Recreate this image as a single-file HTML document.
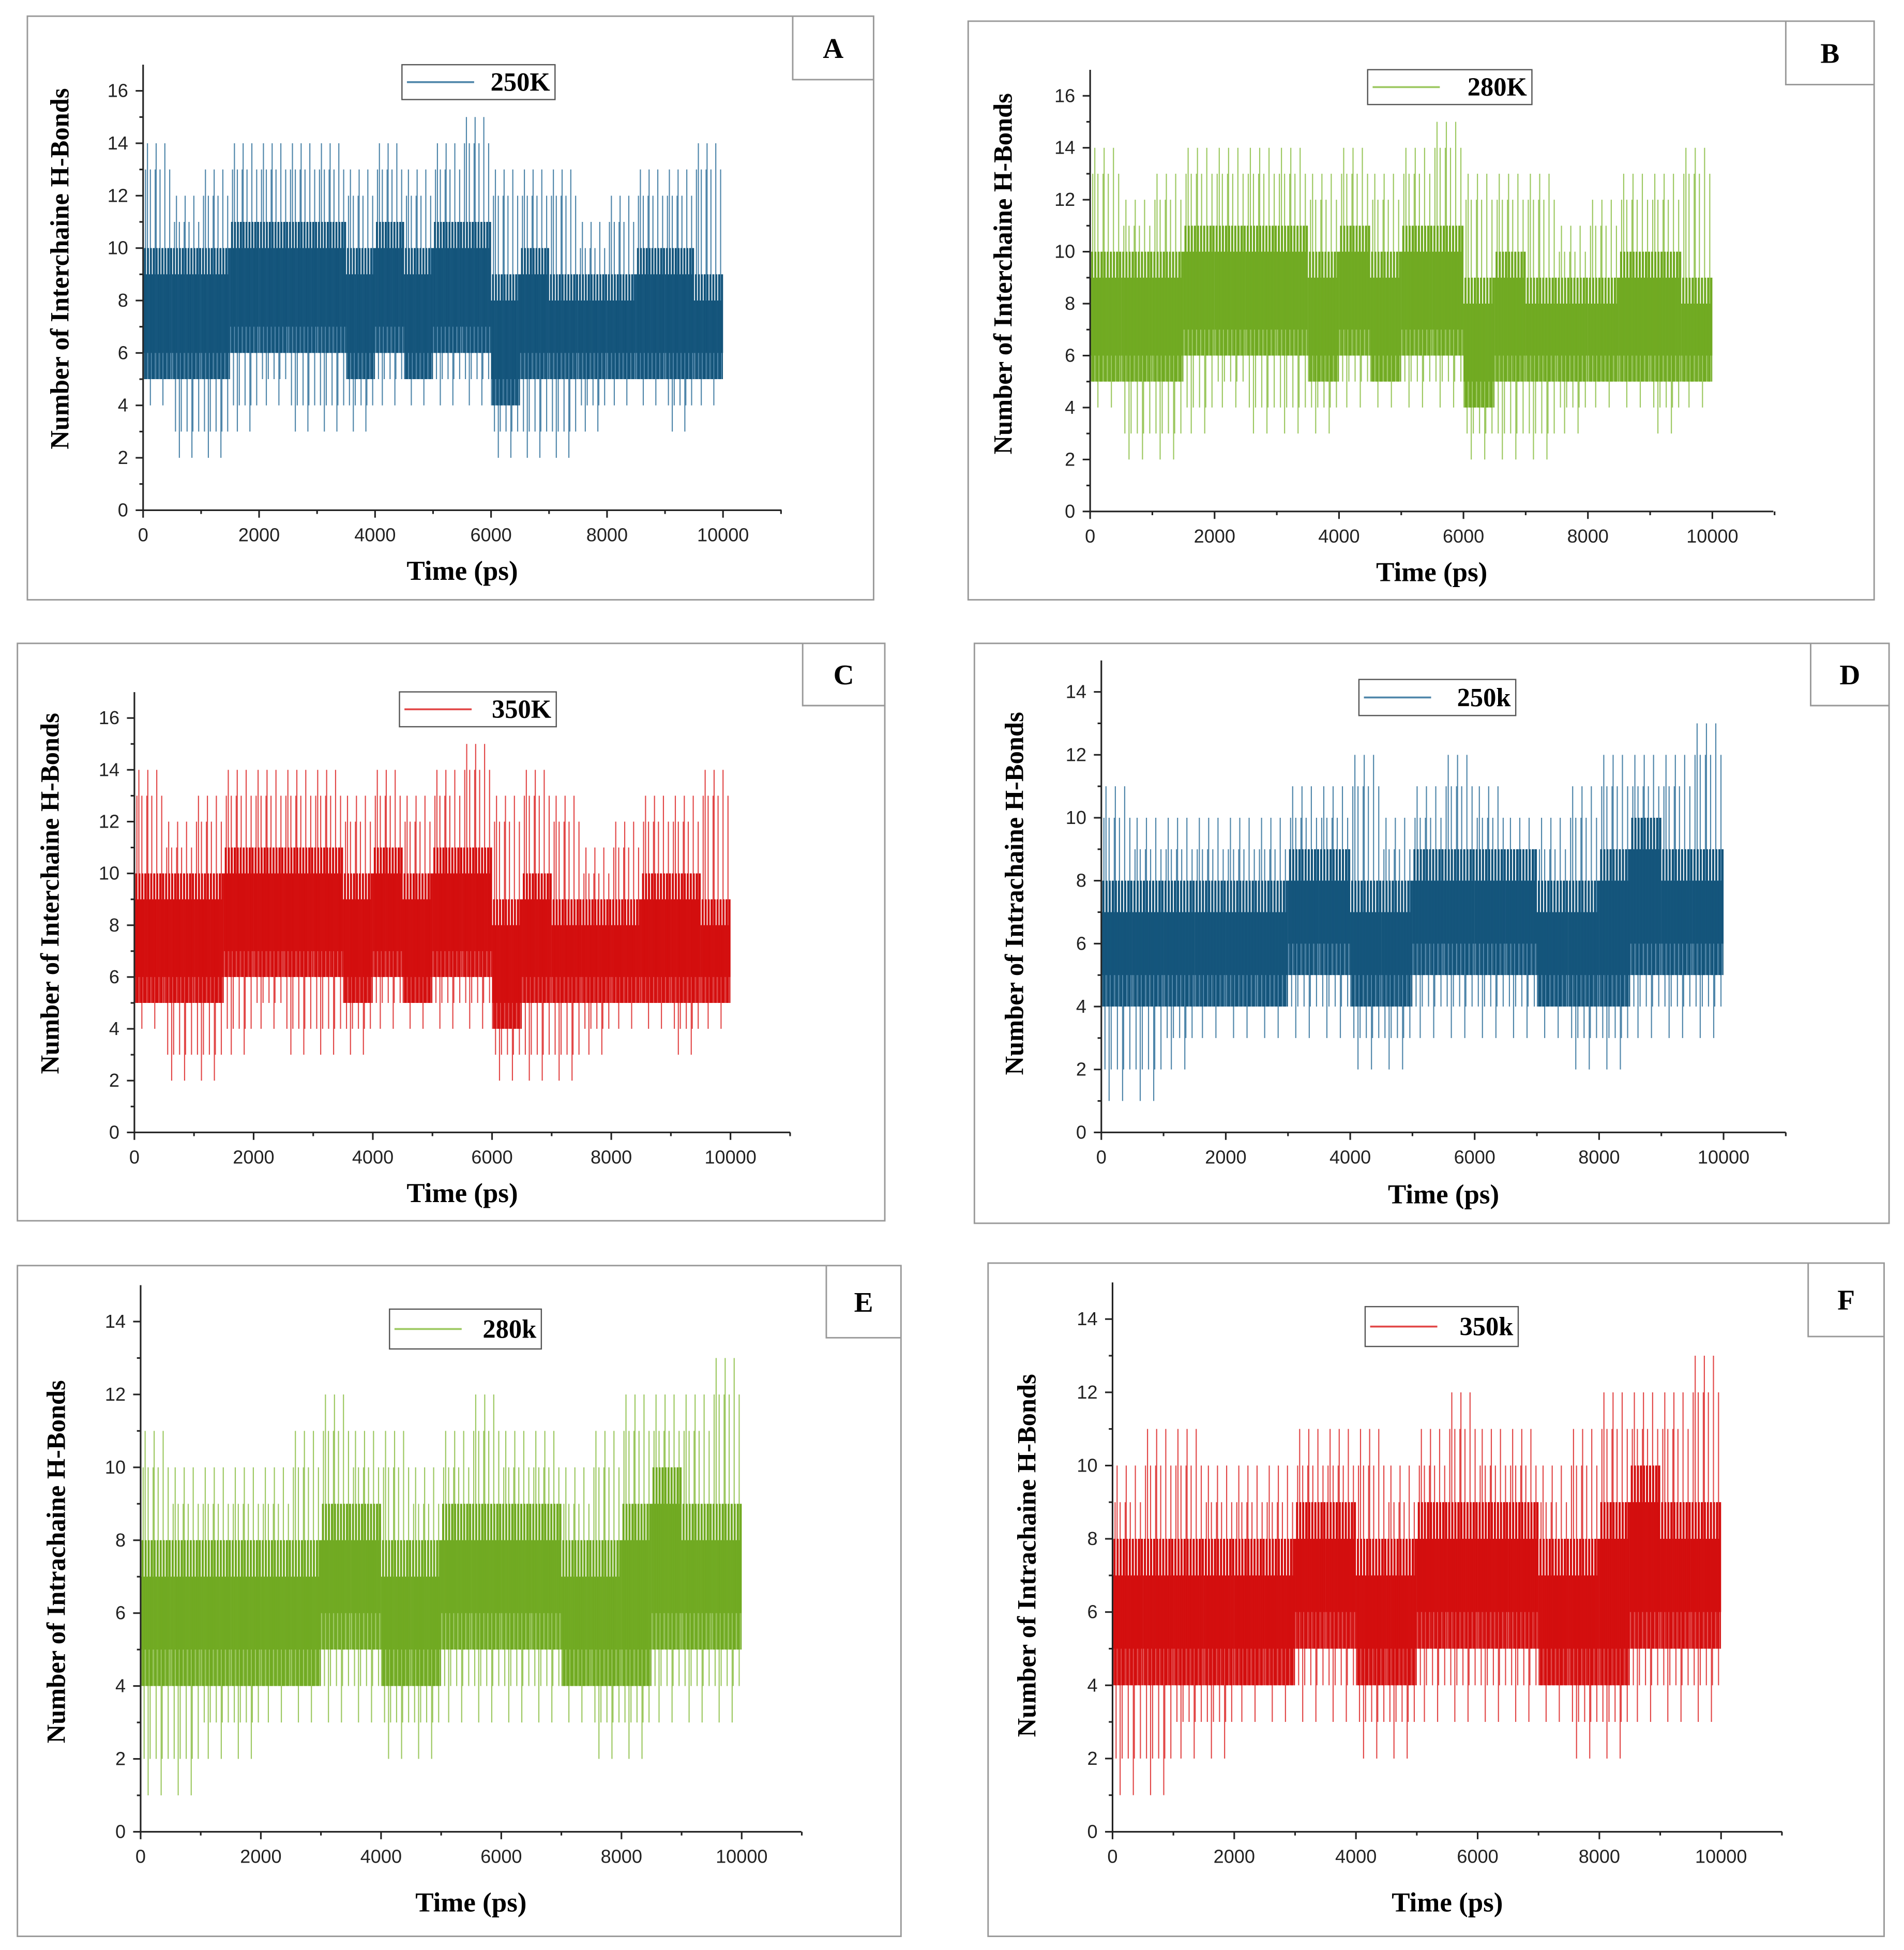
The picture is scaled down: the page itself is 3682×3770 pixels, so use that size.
<!DOCTYPE html>
<html><head><meta charset="utf-8"><style>
html,body{margin:0;padding:0;background:#fff;}
svg{display:block;}
</style></head><body>
<svg id="fig" xmlns="http://www.w3.org/2000/svg" width="3682" height="3770" viewBox="0 0 1530 1567" preserveAspectRatio="none"></svg>
<script>
// Time bins: 20 bins of 500 ps each (0..10000 ps)
const binStarts = [0,500,1000,1500,2000,2500,3000,3500,4000,4500,5000,5500,6000,6500,7000,7500,8000,8500,9000,9500];
const yTicksInter = [0,2,4,6,8,10,12,14,16];
const yTicksIntra = [0,2,4,6,8,10,12,14];
const xTicks = [0,2000,4000,6000,8000,10000];

// Panel A 250K interchain
const aMax = [14,12,13,14,14,14,14,13,14,13,14,15,13,13,13,11,12,13,13,14];
const aMin = [4,2,2,3,4,3,3,3,4,4,4,4,2,2,2,3,4,4,3,4];
const aLo  = [5,5,5,6,6,6,6,5,6,5,6,6,4,5,5,5,5,5,5,5];
const aHi  = [10,10,10,11,11,11,11,10,11,10,11,11,9,10,9,9,9,10,10,9];
// Panel B 280K interchain
const bMax = [14,12,13,14,14,14,14,13,14,13,14,15,13,13,13,11,12,13,13,14];
const bMin = [4,2,2,3,4,3,3,3,4,4,4,4,2,2,2,3,4,4,3,4];
const bLo  = [5,5,5,6,6,6,6,5,6,5,6,6,4,5,5,5,5,5,5,5];
const bHi  = [10,10,10,11,11,11,11,10,11,10,11,11,9,10,9,9,9,10,10,9];
// Panel C 350K interchain
const cMax = [14,12,13,14,14,14,14,13,14,13,14,15,13,14,13,11,12,13,13,14];
const cMin = [4,2,2,3,4,3,3,3,4,4,4,4,2,2,2,3,4,4,3,4];
const cLo  = [5,5,5,6,6,6,6,5,6,5,6,6,4,5,5,5,5,5,5,5];
const cHi  = [10,10,10,11,11,11,11,10,11,10,11,11,9,10,9,9,9,10,10,9];
// Panel D 250k intrachain
const dMax = [11,10,10,10,10,10,11,11,12,10,11,12,11,10,10,11,12,12,12,13];
const dMin = [1,1,2,3,3,3,3,3,2,2,3,3,3,3,3,2,2,3,3,3];
const dLo  = [4,4,4,4,4,4,5,5,4,4,5,5,5,5,4,4,4,5,5,5];
const dHi  = [8,8,8,8,8,8,9,9,8,8,9,9,9,9,8,8,9,10,9,9];
// Panel E 280k intrachain
const eMax = [11,10,10,10,10,11,12,11,11,10,11,12,11,11,10,11,12,12,12,13];
const eMin = [1,1,2,2,3,3,3,3,2,2,3,3,3,3,3,2,2,3,3,3];
const eLo  = [4,4,4,4,4,4,5,5,4,4,5,5,5,5,4,4,4,5,5,5];
const eHi  = [8,8,8,8,8,8,9,9,8,8,9,9,9,9,8,8,9,10,9,9];
// Panel F 350k intrachain
const fMax = [10,11,11,10,10,10,11,11,11,10,11,12,11,11,10,11,12,12,12,13];
const fMin = [1,1,2,2,3,3,3,3,2,2,3,3,3,3,3,2,2,3,3,3];
const fLo  = [4,4,4,4,4,4,5,5,4,4,5,5,5,5,4,4,4,5,5,5];
const fHi  = [8,8,8,8,8,8,9,9,8,8,9,9,9,9,8,8,9,10,9,9];

const NS = "http://www.w3.org/2000/svg";
const svg = document.getElementById('fig');
function mk(tag, attrs, parent){ const e=document.createElementNS(NS,tag); for(const k in attrs) e.setAttribute(k,attrs[k]); (parent||svg).appendChild(e); return e; }

const panels = [
 {id:'a',letter:'A',frame:[22,13,702,482],box:[637,13,702,64],x0:115,x1:581,xEnd:628,y0:410,yTop:73,yMaxV:16,ticks:yTicksInter,leg:[323,52,446,80],lab:'250K',color:'#064970',light:'#4f86aa',ytx:48,ytc:216,ttl:'Number of Interchaine H-Bonds',xty:466,max:aMax,min:aMin,lo:aLo,hi:aHi},
 {id:'b',letter:'B',frame:[778,17,1506,482],box:[1435,17,1506,68],x0:876,x1:1376,xEnd:1425,y0:411,yTop:77,yMaxV:16,ticks:yTicksInter,leg:[1099,56,1231,84],lab:'280K',color:'#66a313',light:'#9cc860',ytx:806,ytc:220,ttl:'Number of Interchaine H-Bonds',xty:467,max:bMax,min:bMin,lo:bLo,hi:bHi},
 {id:'c',letter:'C',frame:[14,517,711,981],box:[645,517,711,567],x0:108,x1:587,xEnd:635,y0:910,yTop:577,yMaxV:16,ticks:yTicksInter,leg:[321,556,447,584],lab:'350K',color:'#d00000',light:'#e24848',ytx:40,ytc:718,ttl:'Number of Interchaine H-Bonds',xty:966,max:cMax,min:cMin,lo:cLo,hi:cHi},
 {id:'d',letter:'D',frame:[783,517,1518,983],box:[1455,517,1518,567],x0:885,x1:1385,xEnd:1435,y0:910,yTop:556,yMaxV:14,ticks:yTicksIntra,leg:[1092,546,1218,575],lab:'250k',color:'#064970',light:'#4f86aa',ytx:815,ytc:718,ttl:'Number of Intrachaine H-Bonds',xty:967,max:dMax,min:dMin,lo:dLo,hi:dHi},
 {id:'e',letter:'E',frame:[14,1017,724,1556],box:[664,1017,724,1075],x0:113,x1:596,xEnd:644,y0:1472,yTop:1062,yMaxV:14,ticks:yTicksIntra,leg:[313,1052,435,1084],lab:'280k',color:'#66a313',light:'#9cc860',ytx:45,ytc:1255,ttl:'Number of Intrachaine H-Bonds',xty:1536,max:eMax,min:eMin,lo:eLo,hi:eHi},
 {id:'f',letter:'F',frame:[794,1015,1514,1556],box:[1453,1015,1514,1074],x0:894,x1:1383,xEnd:1432,y0:1472,yTop:1060,yMaxV:14,ticks:yTicksIntra,leg:[1097,1050,1220,1082],lab:'350k',color:'#d00000',light:'#e24848',ytx:825,ytc:1250,ttl:'Number of Intrachaine H-Bonds',xty:1536,max:fMax,min:fMin,lo:fLo,hi:fHi}
];

panels.forEach(p=>{
 const g = mk('g',{});
 
 
 const xs = t => p.x0 + (t/10000)*(p.x1-p.x0);
 const ys = v => p.y0 - (v/p.yMaxV)*(p.y0-p.yTop);
 const fr = mk('rect',{x:p.frame[0],y:p.frame[1],width:p.frame[2]-p.frame[0],height:p.frame[3]-p.frame[1],fill:'none',stroke:'#999','stroke-width':1.2},g);
 
 
 const bx = mk('path',{d:`M${p.box[0]},${p.box[1]} V${p.box[3]} H${p.box[2]}`,fill:'none',stroke:'#999','stroke-width':1.2},g);
 
 
 const lt = mk('text',{x:(p.box[0]+p.box[2])/2,y:(p.box[1]+p.box[3])/2+8,'text-anchor':'middle','font-family':'Liberation Serif, serif','font-weight':'bold','font-size':23},g);
 lt.textContent=p.letter;
 
 
 const sg = mk('g',{},g);
 
 
 const N=30;
 binStarts.forEach((b,i)=>{
  const bw = 500;
  let d='', dd='';
  for(let k=0;k<N;k++){
   const t = b + (k+0.5)*bw/N;
   let top = p.hi[i] - (k%3===0?1:0);
   let bot = p.lo[i] + (k%4===1?1:0);
   if(k%9===4) top = p.max[i];
   if(k%13===7) bot = p.min[i];
   if(k%5===2) top = Math.max(top, p.max[i]-1);
   if(k%6===3) bot = Math.min(bot, p.min[i]+1);
   d += `M${xs(t).toFixed(2)},${ys(top).toFixed(2)}V${ys(bot).toFixed(2)}`;
   const ct = p.hi[i]-(k%3===0?1:0), cb = p.lo[i]+(k%4===0?1:0);
   dd += `M${xs(t).toFixed(2)},${ys(ct).toFixed(2)}V${ys(cb).toFixed(2)}`;
  }
  const ln = mk('path',{d:d,stroke:p.light,'stroke-width':0.9,fill:'none'},sg);
  
  
  const cl = mk('path',{d:dd,stroke:p.color,'stroke-width':(bw/N)*(p.x1-p.x0)/10000*0.8,fill:'none'},sg);
  
  
 });
 const ax = mk('g',{stroke:'#222','stroke-width':1.3},g);
 
 
 mk('line',{x1:p.x0,y1:p.y0,x2:p.xEnd,y2:p.y0},ax);
 mk('line',{x1:p.x0,y1:p.y0,x2:p.x0,y2:ys(p.yMaxV+1)},ax);
 for(let v=0; v<=p.yMaxV+0.5; v++){
  const len = v%2===0?6:3;
  mk('line',{x1:p.x0-len,y1:ys(v),x2:p.x0,y2:ys(v)},ax);
 }
 for(let t=0; t<=11000; t+=1000){
  const len = t%2000===0?6:3;
  mk('line',{x1:xs(t),y1:p.y0,x2:xs(t),y2:p.y0+len},ax);
 }
 p.ticks.forEach(v=>{
  const tx = mk('text',{x:p.x0-12,y:ys(v)+5,'text-anchor':'end','font-family':'Liberation Sans, sans-serif','font-size':15,fill:'#222'},g);
  tx.textContent=v;
  
  
 });
 xTicks.forEach(t=>{
  const tx = mk('text',{x:xs(t),y:p.y0+25,'text-anchor':'middle','font-family':'Liberation Sans, sans-serif','font-size':15,fill:'#222'},g);
  tx.textContent=t;
  
  
 });
 const xt = mk('text',{x:(p.x0+p.xEnd)/2,y:p.xty,'text-anchor':'middle','font-family':'Liberation Serif, serif','font-weight':'bold','font-size':22},g);
 xt.textContent='Time (ps)';
 
 
 const yc = p.ytc;
 const yt = mk('text',{x:p.ytx,y:yc,'text-anchor':'middle','font-family':'Liberation Serif, serif','font-weight':'bold','font-size':21,transform:`rotate(-90 ${p.ytx} ${yc})`,'dominant-baseline':'central'},g);
 yt.textContent=p.ttl;
 
 
 const lg = mk('g',{},g);
 
 
 mk('rect',{x:p.leg[0],y:p.leg[1],width:p.leg[2]-p.leg[0],height:p.leg[3]-p.leg[1],fill:'#fff',stroke:'#555','stroke-width':1},lg);
 const my=(p.leg[1]+p.leg[3])/2;
 mk('line',{x1:p.leg[0]+4,y1:my,x2:p.leg[0]+58,y2:my,stroke:p.light,'stroke-width':1.5},lg);
 const lt2 = mk('text',{x:p.leg[2]-4,y:my+7,'text-anchor':'end','font-family':'Liberation Serif, serif','font-weight':'bold','font-size':21},lg);
 lt2.textContent=p.lab;
 
 
});
</script>
</body></html>
